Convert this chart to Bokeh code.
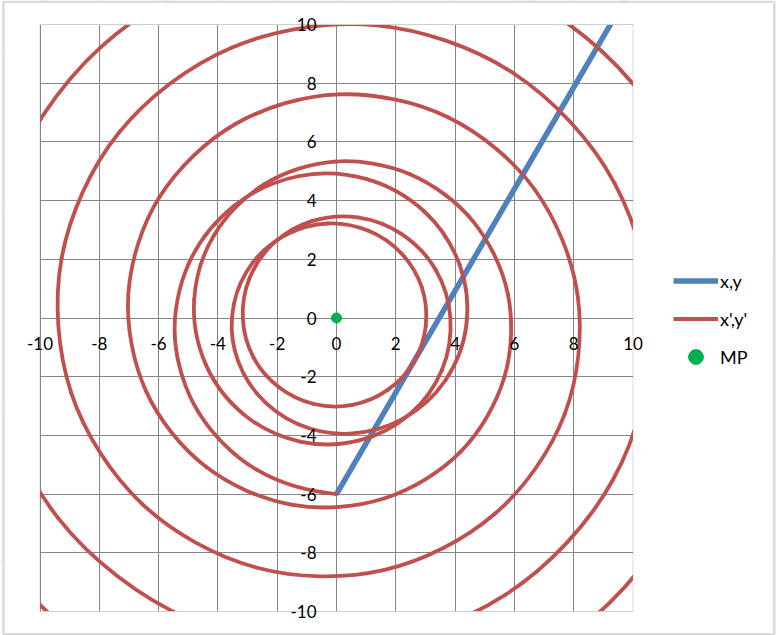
from bokeh.plotting import figure
from bokeh.models import Range1d, FixedTicker, Legend, LegendItem, LinearAxis, Grid, BoxAnnotation
from bokeh.embed import file_html
from bokeh.resources import INLINE

# ---------------- data ----------------
ticks = [-10, -8, -6, -4, -2, 0, 2, 4, 6, 8, 10]
tick_labels = ["-10", "-8", "-6", "-4", "-2", "0", "2", "4", "6", "8", "10"]

# series "x,y" (straight line)
line_x = [0, 10]
line_y = [-6, 11.32]

# series "x',y'" (spiral)
xp = [0.00, -2.71, -4.65, -5.45, -4.99, -3.47, -1.29, 1.02, 2.97, 4.15,
      4.38, 3.67, 2.25, 0.46, -1.29, -2.67, -3.43, -3.46, -2.83, -1.69,
      -0.30, 1.08, 2.20, 2.88, 3.01, 2.61, 1.73, 0.54, -0.76, -1.94,
      -2.80, -3.16, -2.93, -2.12, -0.83, 0.71, 2.20, 3.34, 3.84, 3.56,
      2.48, 0.77, -1.23, -3.11, -4.41, -4.80, -4.12, -2.43, -0.06, 2.48,
      4.60, 5.78, 5.66, 4.19, 1.63, -1.47, -4.39, -6.42, -7.02, -5.97,
      -3.41, 0.09, 3.76, 6.69, 8.14, 7.69, 5.34, 1.59, -2.71, -6.55,
      -8.95, -9.27, -7.34, -3.54, 1.28, 5.97, 9.38, 10.63, 9.32, 5.68,
      0.52, -4.95, -9.40, -11.69, -11.20, -7.94, -2.63, 3.50, 8.96, 12.39,
      12.89, 10.23, 4.98, -1.64, -8.06, -12.68, -14.31, -12.47, -7.52, -0.59,
      6.68]
yp = [-6.00, -5.16, -3.22, -0.69, 1.84, 3.81, 4.83, 4.73, 3.62, 1.82,
      -0.25, -2.13, -3.43, -3.94, -3.62, -2.59, -1.11, 0.48, 1.88, 2.84,
      3.22, 2.97, 2.19, 1.04, -0.27, -1.50, -2.45, -2.96, -2.93, -2.36,
      -1.34, -0.02, 1.36, 2.55, 3.30, 3.43, 2.86, 1.65, 0.01, -1.76,
      -3.27, -4.17, -4.21, -3.30, -1.58, 0.63, 2.84, 4.56, 5.33, 4.90,
      3.30, 0.81, -2.02, -4.55, -6.14, -6.37, -5.08, -2.50, 0.82, 4.12,
      6.61, 7.62, 6.84, 4.37, 0.71, -3.29, -6.67, -8.59, -8.50, -6.34,
      -2.54, 2.04, 6.31, 9.21, 9.98, 8.34, 4.59, -0.42, -5.52, -9.44,
      -11.20, -10.27, -6.80, -1.54, 4.28, 9.24, 12.09, 12.07, 9.08, 3.78,
      -2.62, -8.57, -12.59, -13.64, -11.36, -6.23, 0.57, 7.43, 12.65, 14.90,
      13.55]

# series "MP"
mp_x = [0]
mp_y = [0]

# ---------------- style / layout ----------------
FONT = "Lato"
GRID = "#868686"
BLUE = "#4F81BD"
RED = "#C0504D"
GREEN = "#00B050"

W, H = 776, 635
PL, PR, PT, PB = 39.5, 632.5, 24.0, 611.0      # plot-area edges in pixels
sx = (PR - PL) / 20.0
sy = (PB - PT) / 20.0
xs, xe = -10 - PL / sx, 10 + (W - PR) / sx
ys, ye = -10 - (H - PB) / sy, 10 + PT / sy

p = figure(width=W, height=H, output_backend="svg", toolbar_location=None,
           x_range=Range1d(xs, xe), y_range=Range1d(ys, ye),
           min_border=0, min_border_left=0, min_border_right=0,
           min_border_top=0, min_border_bottom=0,
           x_axis_type=None, y_axis_type=None)
p.outline_line_color = None
p.border_fill_color = "white"
p.background_fill_color = "white"

tick_ticker = FixedTicker(ticks=ticks)
p.add_layout(Grid(dimension=0, ticker=tick_ticker, grid_line_color=GRID, grid_line_width=1))
p.add_layout(Grid(dimension=1, ticker=tick_ticker, grid_line_color=GRID, grid_line_width=1))

r_blue = p.line(line_x, line_y, line_color=BLUE, line_width=5.5)

# smooth (Excel-like) curve through the spiral points
n = len(xp)
def tangent(arr, i):
    if i == 0:
        return (4 * arr[1] - 3 * arr[0] - arr[2]) / 2.0
    if i == n - 1:
        return (3 * arr[n - 1] - 4 * arr[n - 2] + arr[n - 3]) / 2.0
    return (arr[i + 1] - arr[i - 1]) / 2.0

bx0, by0, bx1, by1, bcx0, bcy0, bcx1, bcy1 = ([] for _ in range(8))
for i in range(n - 1):
    bx0.append(xp[i]); by0.append(yp[i])
    bx1.append(xp[i + 1]); by1.append(yp[i + 1])
    bcx0.append(xp[i] + tangent(xp, i) / 3.0)
    bcy0.append(yp[i] + tangent(yp, i) / 3.0)
    bcx1.append(xp[i + 1] - tangent(xp, i + 1) / 3.0)
    bcy1.append(yp[i + 1] - tangent(yp, i + 1) / 3.0)
p.bezier(x0=bx0, y0=by0, x1=bx1, y1=by1, cx0=bcx0, cy0=bcy0, cx1=bcx1, cy1=bcy1,
         line_color=RED, line_width=3.8, line_cap="round")
r_red = p.line(xp[:1], yp[:1], line_color=RED, line_width=3.8)

r_mp = p.scatter(mp_x, mp_y, size=10, fill_color=GREEN, line_color=GREEN)

# white masks outside the plot area (Excel clips series to the plot area)
BIG = 1000
for _ in range(3):
    for kw in (dict(left=-BIG, right=-10, bottom=-BIG, top=BIG),
               dict(left=10, right=BIG, bottom=-BIG, top=BIG),
               dict(left=-BIG, right=BIG, bottom=10, top=BIG),
               dict(left=-BIG, right=BIG, bottom=-BIG, top=-10)):
        p.add_layout(BoxAnnotation(fill_color="white", fill_alpha=1, line_color=None, **kw))
# plot-area edge gridlines
p.add_layout(BoxAnnotation(left=-10, right=10, bottom=-10, top=10, fill_alpha=0,
                           line_color=GRID, line_width=1))
# chart-area border
p.add_layout(BoxAnnotation(left=xs + 2.9 / sx, right=xs + 773.8 / sx,
                           top=ye - 1.3 / sy, bottom=ye - 633.7 / sy,
                           fill_alpha=0, line_color=GRID, line_width=2.5))

xax = LinearAxis(ticker=tick_ticker, fixed_location=0, bounds=(-10, 10))
yax = LinearAxis(ticker=tick_ticker, fixed_location=0, bounds=(-10, 10))
for ax in (xax, yax):
    ax.major_label_overrides = dict(zip(ticks, tick_labels))
    ax.major_tick_out = 0
    ax.major_tick_in = 0
    ax.minor_tick_out = 0
    ax.minor_tick_in = 0
    ax.axis_line_color = None
    ax.major_label_text_font = FONT
    ax.major_label_text_font_size = "17px"
    ax.major_label_text_color = "black"
    ax.level = "overlay"
xax.major_label_standoff = 19
yax.major_label_standoff = 20
p.add_layout(xax, "below")
p.add_layout(yax, "left")

legend = Legend(items=[LegendItem(label="x,y", renderers=[r_blue]),
                       LegendItem(label="x',y'", renderers=[r_red]),
                       LegendItem(label="MP", renderers=[r_mp])],
                location=(673, 260), orientation="vertical",
                glyph_width=45, glyph_height=37, spacing=1, padding=0, margin=0,
                label_standoff=2, label_text_font=FONT, label_text_font_size="18px",
                label_text_color="black",
                border_line_color=None, background_fill_alpha=0)
p.add_layout(legend, "center")

open("out.html", "w").write(file_html(p, INLINE))
